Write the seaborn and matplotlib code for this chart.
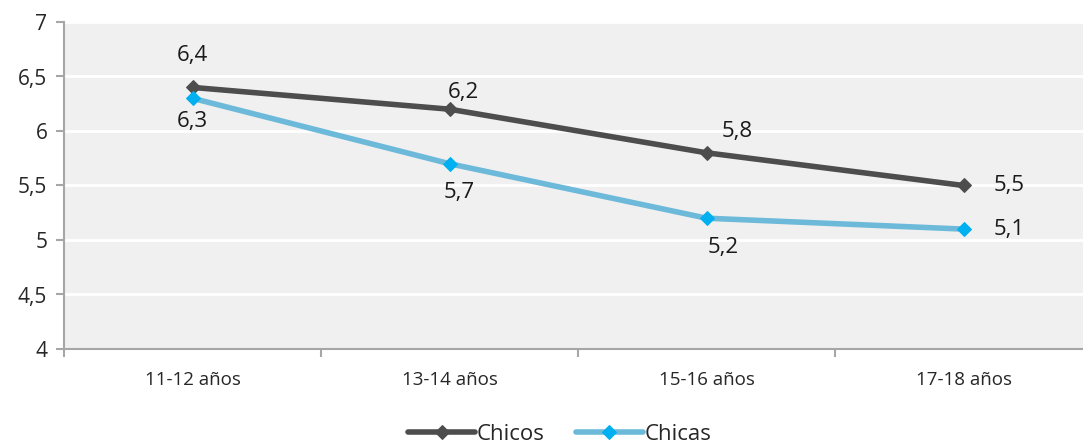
import pandas as pd
import matplotlib.pyplot as plt
import seaborn as sns

# Datos
edades = ["11-12 años", "13-14 años", "15-16 años", "17-18 años"]
chicos = [6.4, 6.2, 5.8, 5.5]
chicas = [6.3, 5.7, 5.2, 5.1]

df = pd.DataFrame({"Edad": edades * 2,
                   "Valor": chicos + chicas,
                   "Grupo": ["Chicos"] * 4 + ["Chicas"] * 4})
df["x"] = list(range(4)) * 2

sns.set_style("white")
plt.rcParams["font.family"] = ["Open Sans", "DejaVu Sans"]

fig = plt.figure(figsize=(10.83, 4.44), dpi=100)
ax = fig.add_axes([64 / 1083, 95 / 444, 1028 / 1083, 327 / 444])
ax.set_facecolor("#F0F0F0")

colores = {"Chicos": "#4D4D4D", "Chicas": "#6DB9DA"}
marcadores = {"Chicos": "#4D4D4D", "Chicas": "#00B0F0"}
for grupo in ["Chicos", "Chicas"]:
    d = df[df["Grupo"] == grupo]
    sns.lineplot(data=d, x="x", y="Valor", ax=ax, color=colores[grupo], lw=4,
                 marker="D", markersize=7, markerfacecolor=marcadores[grupo],
                 markeredgecolor=marcadores[grupo], label=grupo)

# Etiquetas de datos (offset en puntos)
off_chicos = [(0, 23), (10, 12), (22, 15), (33, 0)]
off_chicas = [(0, -17), (7, -21), (12, -21), (33, 0)]
for i in range(4):
    ax.annotate(f"{chicos[i]:.1f}".replace(".", ","), (i, chicos[i]),
                xytext=off_chicos[i], textcoords="offset points",
                ha="center", va="center", fontsize=16, color="#1a1a1a")
    ax.annotate(f"{chicas[i]:.1f}".replace(".", ","), (i, chicas[i]),
                xytext=off_chicas[i], textcoords="offset points",
                ha="center", va="center", fontsize=16, color="#1a1a1a")

ax.set_xlim(-0.5, 3.5)
ax.set_ylim(4, 7)
ax.set_yticks([4, 4.5, 5, 5.5, 6, 6.5, 7])
ax.set_yticklabels(["4", "4,5", "5", "5,5", "6", "6,5", "7"], fontsize=15)
ax.set_xticks(range(4))
ax.set_xticklabels(edades, fontsize=13.5)
ax.set_xticks([-0.5, 0.5, 1.5, 2.5, 3.5], minor=True)
ax.tick_params(axis="x", which="major", length=0, pad=16, bottom=True)
ax.tick_params(axis="x", which="minor", length=6, color="#A6A6A6", width=1.5,
               bottom=True)
ax.tick_params(axis="y", length=6, color="#A6A6A6", width=1.5, pad=6,
               left=True)
ax.yaxis.grid(True, color="white", lw=2)
ax.set_axisbelow(True)
ax.set_xlabel("")
ax.set_ylabel("")
for s in ["top", "right"]:
    ax.spines[s].set_visible(False)
for s in ["left", "bottom"]:
    ax.spines[s].set_color("#A6A6A6")
    ax.spines[s].set_linewidth(1.5)

ax.legend(loc="center", bbox_to_anchor=(560 / 1083, 10 / 444),
          bbox_transform=fig.transFigure, ncol=2, frameon=False,
          fontsize=16, handlelength=3.0, handletextpad=0.1, columnspacing=1.4)

fig.savefig("out.png", dpi=100)
